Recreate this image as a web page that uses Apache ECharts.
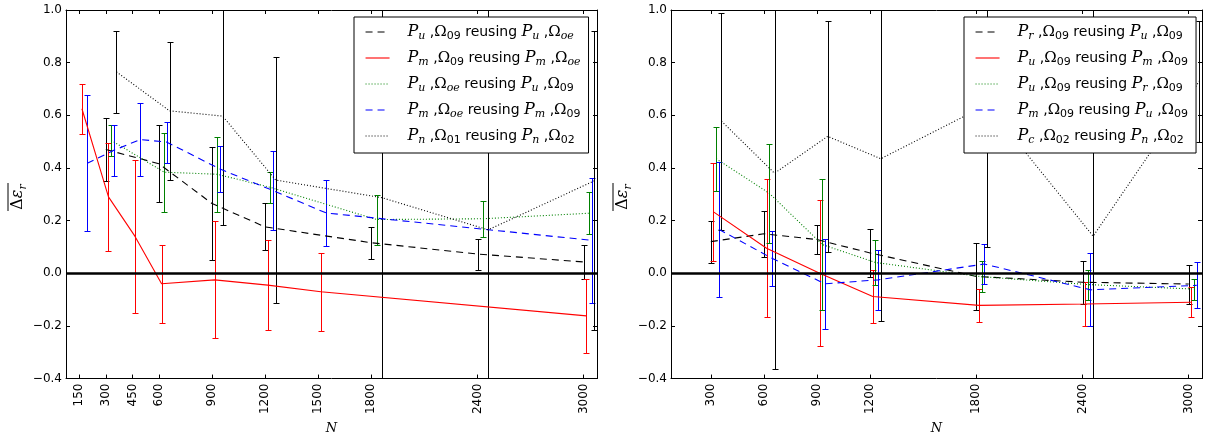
<!DOCTYPE html>
<html>
<head>
<meta charset="utf-8">
<script src="https://cdn.jsdelivr.net/npm/echarts@6/dist/echarts.min.js"></script>
<style>
html,body{margin:0;padding:0;background:#fff;}
#chart{width:1206px;height:440px;}
</style>
</head>
<body>
<div id="chart"></div>
<script>
// ---------------- data ----------------
const ticksLeft = [150, 300, 450, 600, 900, 1200, 1500, 1800, 2400, 3000];
const ticksRight = [300, 600, 900, 1200, 1800, 2400, 3000];
const jitter = [0, 15, 30, 45, 60];

// left panel
const namesL = ['Pu09_Puoe', 'Pm09_Pmoe', 'Puoe_Pu09', 'Pmoe_Pm09', 'Pn01_Pn02'];
const labelsL = [['u','09','u','oe'], ['m','09','m','oe'], ['u','oe','u','09'], ['m','oe','m','09'], ['n','01','n','02']];
const NL0 = [300, 600, 900, 1200, 1800, 2400, 3000];
const meanL0 = [0.47, 0.416, 0.265, 0.176, 0.116, 0.073, 0.043];
const errL0 = [0.12, 0.147, 0.215, 0.089, 0.061, 0.059, 0.066];
const NL1 = [150, 300, 450, 600, 900, 1200, 1500, 3000];
const meanL1 = [0.625, 0.29, 0.14, -0.04, -0.025, -0.045, -0.07, -0.162];
const errL1 = [0.095, 0.205, 0.29, 0.148, 0.222, 0.172, 0.148, 0.142];
const NL2 = [300, 600, 900, 1200, 1800, 2400, 3000];
const meanL2 = [0.505, 0.384, 0.376, 0.326, 0.204, 0.207, 0.228];
const errL2 = [0.06, 0.15, 0.143, 0.06, 0.095, 0.068, 0.08];
const NL3 = [150, 300, 450, 600, 900, 1200, 1500, 3000];
const meanL3 = [0.418, 0.467, 0.508, 0.498, 0.396, 0.314, 0.229, 0.125];
const errL3 = [0.258, 0.097, 0.14, 0.078, 0.086, 0.15, 0.125, 0.237];
const NL4 = [300, 600, 900, 1200, 1800, 2400, 3000];
const meanL4 = [0.765, 0.617, 0.597, 0.354, 0.287, 0.165, 0.351];
const errL4 = [0.155, 0.262, 0.414, 0.467, 0.9, 1.0, 0.568];

// right panel
const namesR = ['Pr09_Pu09', 'Pu09_Pm09', 'Pu09_Pr09', 'Pm09_Pu09', 'Pc02_Pn02'];
const labelsR = [['r','09','u','09'], ['u','09','m','09'], ['u','09','r','09'], ['m','09','u','09'], ['c','02','n','02']];
const NR = [300, 600, 900, 1200, 1800, 2400, 3000];
const meanR0 = [0.12, 0.15, 0.128, 0.077, -0.012, -0.034, -0.041];
const errR0 = [0.08, 0.088, 0.056, 0.093, 0.128, 0.081, 0.074];
const meanR1 = [0.233, 0.095, 0.0, -0.088, -0.122, -0.117, -0.11];
const errR1 = [0.187, 0.262, 0.277, 0.102, 0.063, 0.083, 0.058];
const meanR2 = [0.435, 0.304, 0.109, 0.041, -0.013, -0.043, -0.06];
const errR2 = [0.122, 0.188, 0.25, 0.087, 0.058, 0.057, 0.04];
const meanR3 = [0.167, 0.057, -0.04, -0.025, 0.035, -0.063, -0.046];
const errR3 = [0.257, 0.105, 0.172, 0.114, 0.077, 0.139, 0.087];
const meanR4 = [0.578, 0.38, 0.52, 0.435, 0.64, 0.141, 0.73];
const errR4 = [0.412, 0.745, 0.44, 0.618, 0.54, 1.0, 0.23];

// ---------------- styles ----------------
const colors = ['#000000', '#ff0000', '#008000', '#0000ff', '#000000'];
const dashes = [[7, 5], 'solid', [1, 2], [7, 5], [1, 2]];

const panelL = {
  names: namesL, labels: labelsL,
  N: [NL0, NL1, NL2, NL3, NL4],
  mean: [meanL0, meanL1, meanL2, meanL3, meanL4],
  err: [errL0, errL1, errL2, errL3, errL4]
};
const panelR = {
  names: namesR, labels: labelsR,
  N: [NR, NR, NR, NR, NR],
  mean: [meanR0, meanR1, meanR2, meanR3, meanR4],
  err: [errR0, errR1, errR2, errR3, errR4]
};

const FONT = 'DejaVu Sans';
const SERIF = 'DejaVu Serif';

function subTag(s) { return /^\d+$/.test(s) ? '{sd|' + s + '}' : '{si|' + s + '}'; }
function legendText(l) {
  return '{g|}{P|P}' + subTag(l[0]) + '{t| ,}{O|Ω}' + subTag(l[1]) +
         '{t| reusing }{P|P}' + subTag(l[2]) + '{t| ,}{O|Ω}' + subTag(l[3]);
}
const labelMap = {};
namesL.forEach((n, i) => labelMap[n] = legendText(labelsL[i]));
namesR.forEach((n, i) => labelMap[n] = legendText(labelsR[i]));

const LH = 20;
const richLegend = {
  g: { width: 13, lineHeight: LH },
  P: { fontFamily: SERIF, fontStyle: 'italic', fontSize: 16, lineHeight: LH, color: '#000' },
  O: { fontFamily: SERIF, fontSize: 15, lineHeight: LH, color: '#000' },
  si: { fontFamily: SERIF, fontStyle: 'italic', fontSize: 11, lineHeight: LH, verticalAlign: 'bottom', padding: [0, 0, 0, 0], color: '#000' },
  sd: { fontFamily: FONT, fontSize: 11, lineHeight: LH, verticalAlign: 'bottom', padding: [0, 0, 0, 0], color: '#000' },
  t: { fontFamily: FONT, fontSize: 14, lineHeight: LH, color: '#000' }
};

const XMIN = 75, XMAX = 3075;

function xAxes(ticks, gridIndex) {
  const base = {
    type: 'value', gridIndex: gridIndex, min: XMIN, max: XMAX,
    axisLine: { show: true, onZero: false, lineStyle: { color: '#000', width: 1 } },
    axisTick: { show: true, inside: true, length: 4, customValues: ticks, lineStyle: { color: '#000' } },
    splitLine: { show: false }
  };
  return [
    Object.assign({}, base, {
      position: 'bottom',
      axisLabel: { show: true, customValues: ticks, rotate: 90, margin: 5, color: '#000', fontFamily: FONT, fontSize: 12,
                   formatter: v => String(Math.round(v)) },
      name: 'N', nameLocation: 'middle', nameGap: 41,
      nameTextStyle: { fontFamily: SERIF, fontStyle: 'italic', fontSize: 13, color: '#000' }
    }),
    Object.assign({}, base, { position: 'top', axisLabel: { show: false } })
  ];
}
function yAxes(gridIndex) {
  const base = {
    type: 'value', gridIndex: gridIndex, min: -0.4, max: 1.0, interval: 0.2,
    axisLine: { show: true, onZero: false, lineStyle: { color: '#000', width: 1 } },
    axisTick: { show: true, inside: true, length: 4, lineStyle: { color: '#000' } },
    splitLine: { show: false }
  };
  return [
    Object.assign({}, base, {
      position: 'left',
      axisLabel: {
        show: true, margin: 4, color: '#000', fontFamily: FONT, fontSize: 12,
        formatter: v => (v < -1e-9 ? '\u2212' : '') + Math.abs(v).toFixed(1)
      }
    }),
    Object.assign({}, base, { position: 'right', axisLabel: { show: false } })
  ];
}

function buildSeries(panel, xIdx, yIdx) {
  const out = [];
  for (let k = 0; k < 5; k++) {
    const pts = panel.N[k].map((n, i) => [n + jitter[k], panel.mean[k][i], panel.err[k][i]]);
    const col = colors[k];
    out.push({
      type: 'line', name: panel.names[k], xAxisIndex: xIdx, yAxisIndex: yIdx,
      data: pts.map(p => [p[0], p[1]]), symbol: 'none', showSymbol: false,
      lineStyle: { color: col, width: 1.1, type: dashes[k] }, itemStyle: { color: col },
      silent: true, animation: false, z: 2
    });
    out.push({
      type: 'custom', name: panel.names[k] + '_err', xAxisIndex: xIdx, yAxisIndex: yIdx,
      data: pts, clip: true, silent: true, animation: false, z: 2,
      encode: { x: 0, y: 1 },
      renderItem: function (params, api) {
        const x = api.value(0), y = api.value(1), e = api.value(2);
        const lo = api.coord([x, y - e]);
        const hi = api.coord([x, y + e]);
        const px = Math.round(lo[0]) + 0.5;
        const ly = Math.round(lo[1]) + 0.5, hy = Math.round(hi[1]) + 0.5;
        const c = 3;
        const st = { stroke: col, lineWidth: 1 };
        return {
          type: 'group', children: [
            { type: 'line', shape: { x1: px, y1: ly, x2: px, y2: hy }, style: st },
            { type: 'line', shape: { x1: px - c, y1: ly, x2: px + c, y2: ly }, style: st },
            { type: 'line', shape: { x1: px - c, y1: hy, x2: px + c, y2: hy }, style: st }
          ]
        };
      }
    });
  }
  // zero reference line
  out[0].markLine = {
    silent: true, symbol: 'none', animation: false,
    label: { show: false },
    lineStyle: { color: '#000', width: 2.5, type: 'solid' },
    data: [{ yAxis: 0 }]
  };
  return out;
}

function legendFor(names, left) {
  return {
    show: true, data: names, orient: 'vertical', left: left, top: 17,
    itemWidth: 24, itemHeight: 12, itemGap: 6,
    padding: [5, 8, 7, 11],
    backgroundColor: '#fff', borderColor: '#000', borderWidth: 1, borderRadius: 0,
    selectedMode: false, z: 10,
    itemStyle: { opacity: 0, color: 'rgba(0,0,0,0)', borderWidth: 0 },
    lineStyle: { width: 1.1 },
    formatter: n => labelMap[n],
    textStyle: { rich: richLegend, color: '#000', lineHeight: LH }
  };
}

function yLabel(cx) {
  return {
    type: 'group', x: cx, y: 197, rotation: Math.PI / 2, z: 10,
    children: [
      {
        type: 'text', style: {
          text: '{d|Δ}{e|ε}{r|r}', x: 0, y: 0, align: 'center', verticalAlign: 'middle',
          rich: {
            d: { fontFamily: SERIF, fontSize: 16, color: '#000', lineHeight: 22 },
            e: { fontFamily: SERIF, fontStyle: 'italic', fontSize: 16, color: '#000', lineHeight: 22 },
            r: { fontFamily: SERIF, fontStyle: 'italic', fontSize: 11, color: '#000', lineHeight: 22, verticalAlign: 'bottom' }
          }
        }
      },
      { type: 'line', shape: { x1: -14, y1: -10, x2: 14, y2: -10 }, style: { stroke: '#000', lineWidth: 1 } }
    ]
  };
}

const chart = echarts.init(document.getElementById('chart'), null, { renderer: 'canvas' });
chart.setOption({
  animation: false,
  backgroundColor: '#fff',
  grid: [
    { left: 66, top: 10, width: 531, height: 374, containLabel: false },
    { left: 671, top: 10, width: 531, height: 374, containLabel: false }
  ],
  xAxis: [...xAxes(ticksLeft, 0), ...xAxes(ticksRight, 1)],
  yAxis: [...yAxes(0), ...yAxes(1)],
  legend: [legendFor(namesL, 354), legendFor(namesR, 964)],
  graphic: [yLabel(18), yLabel(623)],
  series: [...buildSeries(panelL, 0, 0), ...buildSeries(panelR, 2, 2)]
});
</script>
</body>
</html>
